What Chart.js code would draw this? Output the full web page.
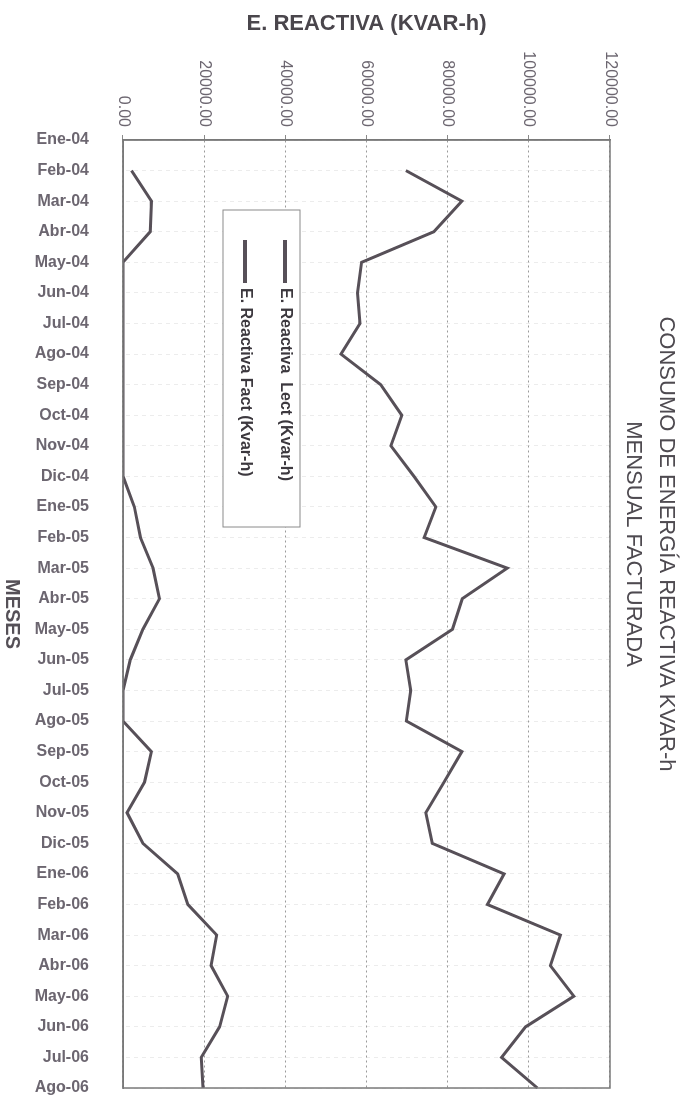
<!DOCTYPE html>
<html>
<head>
<meta charset="utf-8">
<script src="https://cdn.jsdelivr.net/npm/chart.js@4.4.1/dist/chart.umd.min.js"></script>
<style>
    html, body { margin: 0; padding: 0; background: #fff; overflow: hidden; }
    /* the chart is drawn landscape and turned a quarter turn clockwise */
    #giro {
        position: absolute;
        left: 0;
        top: 0;
        width: 1097px;
        height: 686px;
        transform-origin: 0 0;
        transform: translate(686px, 0) rotate(90deg);
    }
</style>
</head>
<body>
<div id="giro">
    <canvas id="reactiva" width="1097" height="686"></canvas>
</div>
<script>
// Meses (eje de categorias)
const meses = [
    'Ene-04', 'Feb-04', 'Mar-04', 'Abr-04', 'May-04', 'Jun-04', 'Jul-04', 'Ago-04',
    'Sep-04', 'Oct-04', 'Nov-04', 'Dic-04', 'Ene-05', 'Feb-05', 'Mar-05', 'Abr-05',
    'May-05', 'Jun-05', 'Jul-05', 'Ago-05', 'Sep-05', 'Oct-05', 'Nov-05', 'Dic-05',
    'Ene-06', 'Feb-06', 'Mar-06', 'Abr-06', 'May-06', 'Jun-06', 'Jul-06', 'Ago-06'
];

// E. Reactiva leida (Kvar-h)
const reactivaLect = [
    null, 69700, 83500, 76600, 58800, 57800, 58400, 53700,
    63500, 68700, 66000, 71700, 77100, 74200, 94700, 83600,
    81200, 69700, 70900, 69800, 83500, 79100, 74600, 76200,
    93900, 89800, 107800, 105300, 111100, 99200, 93300, 102100
];

// E. Reactiva facturada (Kvar-h)
const reactivaFact = [
    null, 2100, 7000, 6700, 0, 0, 0, 0,
    0, 0, 0, 0, 2800, 4300, 7400, 9000,
    4900, 1800, 0, 0, 7000, 5300, 1000, 4900,
    13500, 16000, 23100, 21700, 25800, 23800, 19300, 19700
];

// Valores del eje
const ticksValor = [0, 20000, 40000, 60000, 80000, 100000, 120000];

const fuente = 'Liberation Sans, Arial, sans-serif';
const colorLinea = '#575058';

// Marco del area de trazado
const marcoPlugin = {
    id: 'marco',
    afterDatasetsDraw(chart) {
        const { ctx, chartArea } = chart;
        ctx.save();
        ctx.strokeStyle = '#7a7a7a';
        ctx.lineWidth = 1.5;
        ctx.strokeRect(chartArea.left, chartArea.top,
            chartArea.right - chartArea.left, chartArea.bottom - chartArea.top);
        ctx.restore();
    }
};

// Leyenda dentro del grafico
const leyendaPlugin = {
    id: 'leyenda',
    afterDraw(chart, args, opts) {
        const { ctx, chartArea } = chart;
        const x = chartArea.left + opts.x;
        const y = chartArea.top + opts.y;
        ctx.save();
        ctx.fillStyle = '#ffffff';
        ctx.fillRect(x, y, opts.w, opts.h);
        ctx.strokeStyle = '#8a8a8a';
        ctx.lineWidth = 1;
        ctx.strokeRect(x, y, opts.w, opts.h);
        chart.data.datasets.forEach((ds, i) => {
            const cy = y + 15 + i * 40;
            ctx.strokeStyle = ds.borderColor;
            ctx.lineWidth = 4;
            ctx.beginPath();
            ctx.moveTo(x + 30, cy);
            ctx.lineTo(x + 73, cy);
            ctx.stroke();
            ctx.fillStyle = '#3c383e';
            ctx.font = 'bold 16px ' + fuente;
            ctx.textBaseline = 'middle';
            ctx.textAlign = 'left';
            ctx.fillText(ds.label, x + 78, cy);
        });
        ctx.restore();
    }
};

const ctx = document.getElementById('reactiva').getContext('2d');

const grafico = new Chart(ctx, {
    type: 'line',
    data: {
        labels: meses,
        datasets: [{
            label: 'E. Reactiva  Lect (Kvar-h)',
            data: reactivaLect,
            borderColor: colorLinea,
            borderWidth: 3,
            pointRadius: 0,
            tension: 0,
            fill: false
        }, {
            label: 'E. Reactiva Fact (Kvar-h)',
            data: reactivaFact,
            borderColor: colorLinea,
            borderWidth: 3,
            pointRadius: 0,
            tension: 0,
            fill: false
        }]
    },
    options: {
        responsive: false,
        animation: false,
        layout: { padding: { right: 9 } },
        plugins: {
            legend: { display: false },
            tooltip: { enabled: false },
            title: {
                display: true,
                text: ['CONSUMO DE ENERGÍA REACTIVA KVAR-h', 'MENSUAL FACTURADA'],
                color: '#4e4a50',
                font: { family: fuente, size: 22, weight: 'normal', lineHeight: 1.5 },
                padding: { top: 3, bottom: 7 }
            },
            leyenda: { x: 70, y: 310, w: 317, h: 77 }
        },
        scales: {
            x: {
                offset: false,
                grid: { color: '#ececec', lineWidth: 1, drawTicks: false },
                border: { display: true, color: '#7a7a7a', width: 1.5, dash: [4, 4] },
                ticks: {
                    autoSkip: false,
                    minRotation: 90,
                    maxRotation: 90,
                    padding: 34,
                    color: '#6c6670',
                    font: { family: fuente, size: 16, weight: 'bold' }
                },
                title: {
                    display: true,
                    text: 'MESES',
                    color: '#555057',
                    font: { family: fuente, size: 20, weight: 'bold' },
                    padding: 0
                },
                afterFit(scale) {
                    scale.height = 123;
                    scale.paddingLeft = 0;
                    scale.paddingRight = 0;
                }
            },
            y: {
                min: 0,
                max: 120000,
                afterBuildTicks(scale) {
                    scale.ticks = ticksValor.map(v => ({ value: v }));
                },
                grid: { color: '#9a9a9a', lineWidth: 1, tickLength: 5, tickColor: '#8a8a8a' },
                border: { display: true, color: '#7a7a7a', width: 1.5, dash: [2, 3] },
                ticks: {
                    padding: 8,
                    color: '#6c6670',
                    font: { family: fuente, size: 16 },
                    callback: (v) => Number(v).toFixed(2)
                },
                title: {
                    display: true,
                    text: 'E. REACTIVA (KVAR-h)',
                    color: '#4a464c',
                    font: { family: fuente, size: 22, weight: 'bold' },
                    padding: { top: 11, bottom: 0 }
                },
                afterFit(scale) { scale.width = 140; }
            }
        }
    },
    plugins: [marcoPlugin, leyendaPlugin]
});
</script>
</body>
</html>
